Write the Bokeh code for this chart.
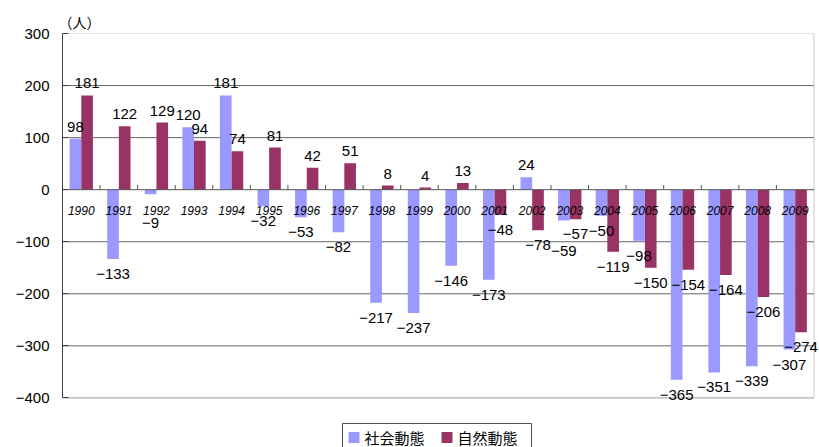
from bokeh.plotting import figure
from bokeh.layouts import column
from bokeh.models import ColumnDataSource, Range1d, FixedTicker
from bokeh.transform import dodge
from bokeh.core.properties import value
from bokeh.embed import file_html
from bokeh.resources import INLINE

# Population change by year (people)
years = [str(y) for y in range(1990, 2010)]
social = [98, -133, -9, 120, 181, -32, -53, -82, -217, -237,
          -146, -173, 24, -59, -50, -98, -365, -351, -339, -307]
natural = [181, 122, 129, 94, 74, 81, 42, 51, 8, 4,
           13, -48, -78, -57, -119, -150, -154, -164, -206, -274]
y_ticks = [300, 200, 100, 0, -100, -200, -300, -400]
series_names = ["社会動態", "自然動態"]
unit_text = "（人）"

BLUE = "#9999FF"
RED = "#993366"
NUM_FONT = "Liberation Sans"
JP_FONT = "Noto Sans CJK JP"
BAR_W = 0.31
LEFT, RIGHT = 62, 1

# extra downward shift (px) for social labels that would collide with neighbours
LABEL_NUDGE = {"1992": 14, "2003": 16}


def fmt(v):
    return str(v).replace("-", "\u2212")


n = len(years)
y_top, y_bottom = max(y_ticks), min(y_ticks)

# the plotting area runs a little past the chart box on the right and bottom
# so that outside value labels are not clipped; the box itself is drawn below
p = figure(width=819, height=414, x_range=Range1d(0, n + 0.12),
           y_range=Range1d(y_bottom - 28, y_top), output_backend="svg",
           toolbar_location=None, min_border_left=LEFT, min_border_right=RIGHT,
           min_border_top=33, min_border_bottom=2)
p.background_fill_color = "white"
p.border_fill_color = "white"
p.outline_line_color = None

p.title.text = unit_text
p.title.align = "left"
p.title.offset = -4
p.title.standoff = 3
p.title.text_font = JP_FONT
p.title.text_font_size = "14px"
p.title.text_font_style = "normal"
p.title.text_color = "black"

p.xaxis.visible = False
p.grid.visible = False

p.yaxis.ticker = FixedTicker(ticks=y_ticks)
p.yaxis.bounds = (y_bottom, y_top)
p.yaxis.major_label_overrides = {t: fmt(t) for t in y_ticks}
p.yaxis.axis_line_color = "#404040"
p.yaxis.major_tick_line_color = "#404040"
p.yaxis.major_tick_in = 6
p.yaxis.major_tick_out = 0
p.yaxis.minor_tick_line_color = None
p.yaxis.major_label_standoff = 13
p.yaxis.major_label_text_font = NUM_FONT
p.yaxis.major_label_text_font_size = "15px"
p.yaxis.major_label_text_color = "black"

# gridlines and chart box
inner = [t for t in y_ticks if t not in (y_top, y_bottom, 0)]
p.segment(x0=0, x1=n, y0=inner, y1=inner, line_color="#666666", line_width=1)
p.segment(x0=0, x1=n, y0=y_top, y1=y_top, line_color="#c8c8c8", line_width=1)
p.segment(x0=n, x1=n, y0=y_bottom, y1=y_top, line_color="#c8c8c8", line_width=1)
p.segment(x0=0, x1=n, y0=y_bottom, y1=y_bottom, line_color="#999999", line_width=1)

src = ColumnDataSource(dict(
    year=years,
    xc=[i + 0.5 for i in range(n)],
    social=social,
    natural=natural,
    social_txt=[fmt(v) for v in social],
    natural_txt=[fmt(v) for v in natural],
    social_base=["bottom" if v >= 0 else "top" for v in social],
    natural_base=["bottom" if v >= 0 else "top" for v in natural],
    social_off=[(-7 if v >= 0 else 10) + LABEL_NUDGE.get(y, 0) for y, v in zip(years, social)],
    natural_off=[-7 if v >= 0 else 10 for v in natural],
))

p.vbar(x=dodge("xc", -BAR_W / 2), top="social", bottom=0,
       width=BAR_W, source=src, fill_color=BLUE, line_color=None)
p.vbar(x=dodge("xc", BAR_W / 2), top="natural", bottom=0,
       width=BAR_W, source=src, fill_color=RED, line_color=None)

# zero line and small category-boundary ticks
p.segment(x0=0, x1=n, y0=0, y1=0, line_color="#555555", line_width=1)
bsrc = ColumnDataSource(dict(xb=list(range(1, n))))
p.segment(x0="xb", x1="xb", y0=0, y1=9, source=bsrc, line_color="#555555", line_width=1)

# year labels just below the zero line
p.text(x="xc", y=0, text="year", source=src, text_align="center",
       text_baseline="middle", y_offset=21, text_font=value(NUM_FONT),
       text_font_style="italic", text_font_size="12px", text_color="black")

# value labels
p.text(x=dodge("xc", -BAR_W / 2), y="social", text="social_txt",
       source=src, text_align="center", text_baseline="social_base", y_offset="social_off",
       text_font=value(NUM_FONT), text_font_size="15px", text_color="black")
p.text(x=dodge("xc", BAR_W / 2), y="natural", text="natural_txt",
       source=src, text_align="center", text_baseline="natural_base", y_offset="natural_off",
       text_font=value(NUM_FONT), text_font_size="15px", text_color="black")

# legend strip under the chart; its frame lines up with the chart's frame, so the
# x range is given in page pixels and y counts down from the strip's top edge
lg = figure(width=819, height=33, output_backend="svg", toolbar_location=None,
            min_border=0, x_range=Range1d(LEFT, 819 - RIGHT), y_range=Range1d(33, 0))
lg.outline_line_color = None
lg.background_fill_color = "white"
lg.border_fill_color = "white"
lg.axis.visible = False
lg.grid.visible = False

lg.rect(x=436.5, y=23.5, width=189, height=29, fill_color="white",
        line_color="#505050", line_width=1)
lg.rect(x=[353.5, 446.5], y=[23, 23], width=11, height=11,
        fill_color=[BLUE, RED], line_color=None)
lg.text(x=[364, 457], y=[23, 23], text=series_names, text_baseline="middle",
        text_align="left", text_font=value(JP_FONT), text_font_size="15px",
        text_color="black")

open("out.html", "w").write(file_html(column(p, lg, spacing=0), INLINE))
